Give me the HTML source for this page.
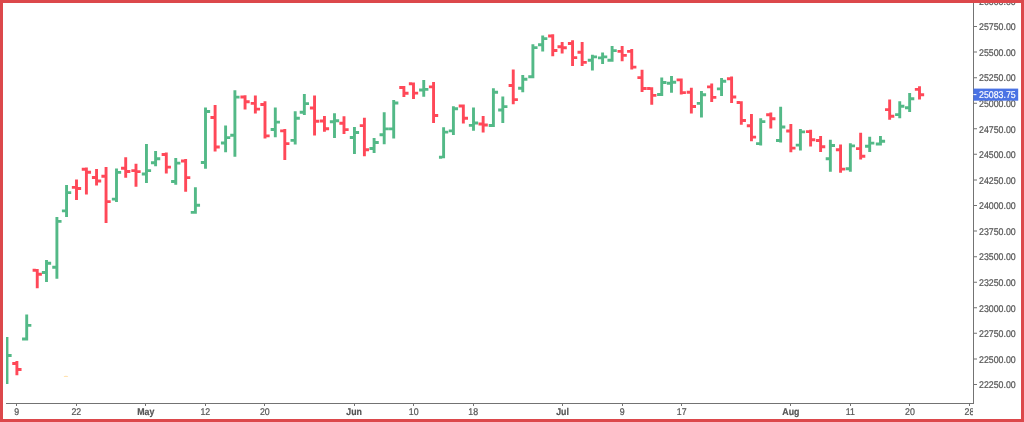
<!DOCTYPE html>
<html><head><meta charset="utf-8"><title>Chart</title>
<style>html,body{margin:0;padding:0;background:#fff;}body{width:1024px;height:422px;overflow:hidden;font-family:"Liberation Sans",sans-serif;}svg{display:block;will-change:transform;}</style>
</head><body>
<svg width="1024" height="422" viewBox="0 0 1024 422" font-family="'Liberation Sans', sans-serif" text-rendering="geometricPrecision">
<defs><clipPath id="cp"><rect x="6" y="3" width="967" height="400"/></clipPath><clipPath id="cpx"><rect x="3" y="404" width="970" height="15"/></clipPath></defs>
<rect width="1024" height="422" fill="#fff"/>
<g clip-path="url(#cp)"><path fill="#53b987" d="M5.53 337.1h2.9V384h-2.9ZM2.33 363.05h3.2v2.9h-3.2ZM8.43 354.05h3.2v2.9h-3.2ZM25.25 314.6h2.9V340.5h-2.9ZM22.05 337.55h3.2v2.9h-3.2ZM28.15 323.95h3.2v2.9h-3.2ZM45.05 260.1h2.9V282h-2.9ZM41.85 271.05h3.2v2.9h-3.2ZM47.95 261.85h3.2v2.9h-3.2ZM55.45 217.1h2.9V278.8h-2.9ZM52.25 265.75h3.2v2.9h-3.2ZM58.35 219.95h3.2v2.9h-3.2ZM65.1 184.9h2.9V217h-2.9ZM61.9 209.45h3.2v2.9h-3.2ZM68 191.15h3.2v2.9h-3.2ZM115.05 168.5h2.9V201.9h-2.9ZM111.85 197.65h3.2v2.9h-3.2ZM117.95 170.95h3.2v2.9h-3.2ZM145 144.1h2.9V182.9h-2.9ZM141.8 172.55h3.2v2.9h-3.2ZM147.9 169.15h3.2v2.9h-3.2ZM154.15 150.9h2.9V166.3h-2.9ZM150.95 161.35h3.2v2.9h-3.2ZM157.05 157.25h3.2v2.9h-3.2ZM174.3 157.9h2.9V184.8h-2.9ZM171.1 180.05h3.2v2.9h-3.2ZM177.2 161.65h3.2v2.9h-3.2ZM193.95 187.3h2.9V213.8h-2.9ZM190.75 210.95h3.2v2.9h-3.2ZM196.85 203.85h3.2v2.9h-3.2ZM204.05 107.4h2.9V168.8h-2.9ZM200.85 161.05h3.2v2.9h-3.2ZM206.95 110.05h3.2v2.9h-3.2ZM224.15 125.6h2.9V152.2h-2.9ZM220.95 141.55h3.2v2.9h-3.2ZM227.05 136.15h3.2v2.9h-3.2ZM233.45 90.2h2.9V156.8h-2.9ZM230.25 133.75h3.2v2.9h-3.2ZM236.35 95.65h3.2v2.9h-3.2ZM273.85 107.4h2.9V137.3h-2.9ZM270.65 128.05h3.2v2.9h-3.2ZM276.75 120.65h3.2v2.9h-3.2ZM293.75 111.3h2.9V144.4h-2.9ZM290.55 138.95h3.2v2.9h-3.2ZM296.65 116.75h3.2v2.9h-3.2ZM302.9 93.9h2.9V114.9h-2.9ZM299.7 110.75h3.2v2.9h-3.2ZM305.8 102.15h3.2v2.9h-3.2ZM333.05 113.2h2.9V138h-2.9ZM329.85 120.35h3.2v2.9h-3.2ZM335.95 119.35h3.2v2.9h-3.2ZM353 127h2.9V154.1h-2.9ZM349.8 136.05h3.2v2.9h-3.2ZM355.9 131.05h3.2v2.9h-3.2ZM372.65 138.1h2.9V152.9h-2.9ZM369.45 147.05h3.2v2.9h-3.2ZM375.55 141.05h3.2v2.9h-3.2ZM382.75 112.3h2.9V144.3h-2.9ZM379.55 133.35h3.2v2.9h-3.2ZM385.65 127.45h3.2v2.9h-3.2ZM392.25 99.9h2.9V138.6h-2.9ZM389.05 127.45h3.2v2.9h-3.2ZM395.15 101.55h3.2v2.9h-3.2ZM422.3 80h2.9V96.7h-2.9ZM419.1 88.55h3.2v2.9h-3.2ZM425.2 87.95h3.2v2.9h-3.2ZM442.15 127.3h2.9V158.3h-2.9ZM438.95 155.75h3.2v2.9h-3.2ZM445.05 130.65h3.2v2.9h-3.2ZM451.95 106.3h2.9V135.1h-2.9ZM448.75 129.45h3.2v2.9h-3.2ZM454.85 107.35h3.2v2.9h-3.2ZM472.05 107.4h2.9V130.8h-2.9ZM468.85 123.95h3.2v2.9h-3.2ZM474.95 121.55h3.2v2.9h-3.2ZM491.95 88.2h2.9V127h-2.9ZM488.75 124.05h3.2v2.9h-3.2ZM494.85 90.85h3.2v2.9h-3.2ZM501.35 96.4h2.9V122.9h-2.9ZM498.15 108.55h3.2v2.9h-3.2ZM504.25 105.15h3.2v2.9h-3.2ZM521.3 75.1h2.9V92.2h-2.9ZM518.1 86.85h3.2v2.9h-3.2ZM524.2 77.85h3.2v2.9h-3.2ZM531.45 44.2h2.9V78.3h-2.9ZM528.25 75.25h3.2v2.9h-3.2ZM534.35 46.15h3.2v2.9h-3.2ZM541.25 35.5h2.9V51.5h-2.9ZM538.05 43.35h3.2v2.9h-3.2ZM544.15 37.15h3.2v2.9h-3.2ZM590.95 54.7h2.9V70.6h-2.9ZM587.75 58.75h3.2v2.9h-3.2ZM593.85 55.45h3.2v2.9h-3.2ZM601.15 52.4h2.9V63.9h-2.9ZM597.95 56.45h3.2v2.9h-3.2ZM604.05 55.45h3.2v2.9h-3.2ZM610.65 46.1h2.9V61.7h-2.9ZM607.45 58.75h3.2v2.9h-3.2ZM613.55 49.15h3.2v2.9h-3.2ZM660.3 77.6h2.9V96h-2.9ZM657.1 93.05h3.2v2.9h-3.2ZM663.2 81.05h3.2v2.9h-3.2ZM670.05 76h2.9V92.7h-2.9ZM666.85 81.85h3.2v2.9h-3.2ZM672.95 80.75h3.2v2.9h-3.2ZM700 91h2.9V117.6h-2.9ZM696.8 101.95h3.2v2.9h-3.2ZM702.9 93.25h3.2v2.9h-3.2ZM720.1 78h2.9V95.9h-2.9ZM716.9 87.45h3.2v2.9h-3.2ZM723 79.85h3.2v2.9h-3.2ZM759.25 118.2h2.9V145.4h-2.9ZM756.05 142.15h3.2v2.9h-3.2ZM762.15 120.15h3.2v2.9h-3.2ZM779.2 106.7h2.9V142.4h-2.9ZM776 139.05h3.2v2.9h-3.2ZM782.1 125.55h3.2v2.9h-3.2ZM798.95 129h2.9V150.6h-2.9ZM795.75 143.65h3.2v2.9h-3.2ZM801.85 130.45h3.2v2.9h-3.2ZM828.9 139.7h2.9V171.8h-2.9ZM825.7 157.25h3.2v2.9h-3.2ZM831.8 144.05h3.2v2.9h-3.2ZM848.9 143.2h2.9V171.8h-2.9ZM845.7 167.25h3.2v2.9h-3.2ZM851.8 144.45h3.2v2.9h-3.2ZM868.25 136.8h2.9V152.1h-2.9ZM865.05 144.75h3.2v2.9h-3.2ZM871.15 141.65h3.2v2.9h-3.2ZM879 136.1h2.9V145.5h-2.9ZM875.8 142.55h3.2v2.9h-3.2ZM881.9 139.75h3.2v2.9h-3.2ZM898.3 101.3h2.9V118.3h-2.9ZM895.1 113.15h3.2v2.9h-3.2ZM901.2 104.75h3.2v2.9h-3.2ZM908.2 93h2.9V111.9h-2.9ZM905 106.35h3.2v2.9h-3.2ZM911.1 97.25h3.2v2.9h-3.2Z"/><path fill="#ff4858" d="M15.45 361h2.9V375.2h-2.9ZM12.25 362.05h3.2v2.9h-3.2ZM18.35 368.05h3.2v2.9h-3.2ZM35.8 268.9h2.9V288.2h-2.9ZM32.6 268.75h3.2v2.9h-3.2ZM38.7 272.75h3.2v2.9h-3.2ZM75.05 179.4h2.9V199.9h-2.9ZM71.85 185.95h3.2v2.9h-3.2ZM77.95 187.05h3.2v2.9h-3.2ZM84.95 167.6h2.9V194.6h-2.9ZM81.75 167.75h3.2v2.9h-3.2ZM87.85 170.85h3.2v2.9h-3.2ZM95.1 169h2.9V185.6h-2.9ZM91.9 176.05h3.2v2.9h-3.2ZM98 179.55h3.2v2.9h-3.2ZM104.6 166.9h2.9V222.9h-2.9ZM101.4 174.75h3.2v2.9h-3.2ZM107.5 200.15h3.2v2.9h-3.2ZM124.25 157.2h2.9V177.7h-2.9ZM121.05 166.85h3.2v2.9h-3.2ZM127.15 170.05h3.2v2.9h-3.2ZM134.55 163.7h2.9V186.8h-2.9ZM131.35 169.15h3.2v2.9h-3.2ZM137.45 170.15h3.2v2.9h-3.2ZM164.85 152.5h2.9V173.5h-2.9ZM161.65 153.05h3.2v2.9h-3.2ZM167.75 165.65h3.2v2.9h-3.2ZM184.2 159.1h2.9V191.8h-2.9ZM181 159.55h3.2v2.9h-3.2ZM187.1 176.15h3.2v2.9h-3.2ZM213.65 105.1h2.9V151.5h-2.9ZM210.45 116.05h3.2v2.9h-3.2ZM216.55 145.55h3.2v2.9h-3.2ZM243.6 95.2h2.9V109.6h-2.9ZM240.4 95.55h3.2v2.9h-3.2ZM246.5 100.25h3.2v2.9h-3.2ZM253.9 95.6h2.9V113.5h-2.9ZM250.7 101.95h3.2v2.9h-3.2ZM256.8 107.65h3.2v2.9h-3.2ZM263.55 101.3h2.9V138.4h-2.9ZM260.35 103.05h3.2v2.9h-3.2ZM266.45 134.45h3.2v2.9h-3.2ZM283.35 129h2.9V160h-2.9ZM280.15 129.45h3.2v2.9h-3.2ZM286.25 142.15h3.2v2.9h-3.2ZM313.1 95.6h2.9V135.4h-2.9ZM309.9 106.55h3.2v2.9h-3.2ZM316 119.85h3.2v2.9h-3.2ZM323 116.1h2.9V131.7h-2.9ZM319.8 119.55h3.2v2.9h-3.2ZM325.9 127.25h3.2v2.9h-3.2ZM342.55 116.3h2.9V134.1h-2.9ZM339.35 121.75h3.2v2.9h-3.2ZM345.45 128.15h3.2v2.9h-3.2ZM362.95 117.8h2.9V156.2h-2.9ZM359.75 124.15h3.2v2.9h-3.2ZM365.85 148.35h3.2v2.9h-3.2ZM402.45 86h2.9V96.9h-2.9ZM399.25 86.05h3.2v2.9h-3.2ZM405.35 91.85h3.2v2.9h-3.2ZM412.05 82.4h2.9V99.1h-2.9ZM408.85 82.35h3.2v2.9h-3.2ZM414.95 91.65h3.2v2.9h-3.2ZM432.1 81.9h2.9V123.1h-2.9ZM428.9 85.45h3.2v2.9h-3.2ZM435 114.05h3.2v2.9h-3.2ZM461.9 104.6h2.9V123.5h-2.9ZM458.7 104.55h3.2v2.9h-3.2ZM464.8 116.75h3.2v2.9h-3.2ZM481.7 116.1h2.9V132.5h-2.9ZM478.5 122.55h3.2v2.9h-3.2ZM484.6 123.55h3.2v2.9h-3.2ZM511.8 69.4h2.9V104.3h-2.9ZM508.6 84.05h3.2v2.9h-3.2ZM514.7 98.15h3.2v2.9h-3.2ZM551.3 34.25h2.9V56.3h-2.9ZM548.1 34.55h3.2v2.9h-3.2ZM554.2 49.05h3.2v2.9h-3.2ZM560.7 42.1h2.9V53.5h-2.9ZM557.5 45.35h3.2v2.9h-3.2ZM563.6 46.35h3.2v2.9h-3.2ZM571.1 40.3h2.9V66h-2.9ZM567.9 42.05h3.2v2.9h-3.2ZM574 56.15h3.2v2.9h-3.2ZM580.7 42h2.9V65.9h-2.9ZM577.5 50.75h3.2v2.9h-3.2ZM583.6 60.95h3.2v2.9h-3.2ZM620.7 46.1h2.9V61.2h-2.9ZM617.5 49.95h3.2v2.9h-3.2ZM623.6 53.95h3.2v2.9h-3.2ZM630.3 49h2.9V69.6h-2.9ZM627.1 49.95h3.2v2.9h-3.2ZM633.2 65.65h3.2v2.9h-3.2ZM640.6 69.7h2.9V92h-2.9ZM637.4 76.15h3.2v2.9h-3.2ZM643.5 87.05h3.2v2.9h-3.2ZM650.3 87.3h2.9V104.7h-2.9ZM647.1 87.05h3.2v2.9h-3.2ZM653.2 93.95h3.2v2.9h-3.2ZM679.8 78.5h2.9V94.6h-2.9ZM676.6 78.45h3.2v2.9h-3.2ZM682.7 91.15h3.2v2.9h-3.2ZM689.9 87.8h2.9V113.4h-2.9ZM686.7 90.75h3.2v2.9h-3.2ZM692.8 105.05h3.2v2.9h-3.2ZM710.25 83.6h2.9V101.9h-2.9ZM707.05 85.45h3.2v2.9h-3.2ZM713.15 95.95h3.2v2.9h-3.2ZM730.15 76.6h2.9V103.1h-2.9ZM726.95 77.25h3.2v2.9h-3.2ZM733.05 95.55h3.2v2.9h-3.2ZM739.85 101.2h2.9V124.7h-2.9ZM736.65 101.05h3.2v2.9h-3.2ZM742.75 119.05h3.2v2.9h-3.2ZM750 114.1h2.9V141.3h-2.9ZM746.8 124.25h3.2v2.9h-3.2ZM752.9 135.65h3.2v2.9h-3.2ZM769.35 112.4h2.9V128.4h-2.9ZM766.15 113.35h3.2v2.9h-3.2ZM772.25 117.25h3.2v2.9h-3.2ZM789.4 124h2.9V152.3h-2.9ZM786.2 129.55h3.2v2.9h-3.2ZM792.3 146.65h3.2v2.9h-3.2ZM809.15 129.7h2.9V146.6h-2.9ZM805.95 130.15h3.2v2.9h-3.2ZM812.05 138.35h3.2v2.9h-3.2ZM819.15 135.9h2.9V152.1h-2.9ZM815.95 139.05h3.2v2.9h-3.2ZM822.05 145.35h3.2v2.9h-3.2ZM839.1 144.5h2.9V172.8h-2.9ZM835.9 148.35h3.2v2.9h-3.2ZM842 167.65h3.2v2.9h-3.2ZM859.2 132.8h2.9V159.5h-2.9ZM856 147.15h3.2v2.9h-3.2ZM862.1 154.85h3.2v2.9h-3.2ZM888.2 99.4h2.9V119.8h-2.9ZM885 108.15h3.2v2.9h-3.2ZM891.1 114.75h3.2v2.9h-3.2ZM918.05 86.2h2.9V99.4h-2.9ZM914.85 87.95h3.2v2.9h-3.2ZM920.95 93.25h3.2v2.9h-3.2Z"/></g><rect x="973" y="3" width="1" height="401" fill="#737373"/><rect x="6" y="403" width="968" height="1" fill="#737373"/><path fill="#737373" d="M974 0.43h3v1h-3ZM974 26h3v1h-3ZM974 51.57h3v1h-3ZM974 77.14h3v1h-3ZM974 102.71h3v1h-3ZM974 128.29h3v1h-3ZM974 153.86h3v1h-3ZM974 179.43h3v1h-3ZM974 205h3v1h-3ZM974 230.57h3v1h-3ZM974 256.14h3v1h-3ZM974 281.71h3v1h-3ZM974 307.29h3v1h-3ZM974 332.86h3v1h-3ZM974 358.43h3v1h-3ZM974 384h3v1h-3Z"/><g font-size="8.8" fill="#555555" stroke="#555555" stroke-width="0.2"><text transform="translate(979 5) scale(1 1.11)">26000.00</text><text transform="translate(979 30) scale(1 1.11)">25750.00</text><text transform="translate(979 56) scale(1 1.11)">25500.00</text><text transform="translate(979 81) scale(1 1.11)">25250.00</text><text transform="translate(979 107) scale(1 1.11)">25000.00</text><text transform="translate(979 133) scale(1 1.11)">24750.00</text><text transform="translate(979 158) scale(1 1.11)">24500.00</text><text transform="translate(979 184) scale(1 1.11)">24250.00</text><text transform="translate(979 209) scale(1 1.11)">24000.00</text><text transform="translate(979 235) scale(1 1.11)">23750.00</text><text transform="translate(979 260) scale(1 1.11)">23500.00</text><text transform="translate(979 286) scale(1 1.11)">23250.00</text><text transform="translate(979 312) scale(1 1.11)">23000.00</text><text transform="translate(979 337) scale(1 1.11)">22750.00</text><text transform="translate(979 363) scale(1 1.11)">22500.00</text><text transform="translate(979 388) scale(1 1.11)">22250.00</text></g><path fill="#737373" d="M16 404h1v2h-1ZM76 404h1v2h-1ZM145 404h1v2h-1ZM205 404h1v2h-1ZM264 404h1v2h-1ZM354 404h1v2h-1ZM413 404h1v2h-1ZM473 404h1v2h-1ZM562 404h1v2h-1ZM622 404h1v2h-1ZM681 404h1v2h-1ZM790 404h1v2h-1ZM850 404h1v2h-1ZM909 404h1v2h-1ZM969 404h1v2h-1Z"/><g clip-path="url(#cpx)" font-size="8.8" fill="#555555" stroke="#555555" stroke-width="0.2" text-anchor="middle"><text transform="translate(16.75 414.8) scale(1 1.11)">9</text><text transform="translate(76.29 414.8) scale(1 1.11)">22</text><text transform="translate(145.76 414.8) scale(1 1.11)" font-weight="bold">May</text><text transform="translate(205.31 414.8) scale(1 1.11)">12</text><text transform="translate(264.85 414.8) scale(1 1.11)">20</text><text transform="translate(354.17 414.8) scale(1 1.11)" font-weight="bold">Jun</text><text transform="translate(413.71 414.8) scale(1 1.11)">10</text><text transform="translate(473.25 414.8) scale(1 1.11)">18</text><text transform="translate(562.57 414.8) scale(1 1.11)" font-weight="bold">Jul</text><text transform="translate(622.11 414.8) scale(1 1.11)">9</text><text transform="translate(681.66 414.8) scale(1 1.11)">17</text><text transform="translate(790.82 414.8) scale(1 1.11)" font-weight="bold">Aug</text><text transform="translate(850.37 414.8) scale(1 1.11)">11</text><text transform="translate(909.91 414.8) scale(1 1.11)">20</text><text transform="translate(969.45 414.8) scale(1 1.11)">28</text></g><ellipse cx="65.9" cy="376.4" rx="2.3" ry="0.7" fill="#ffc766" opacity="0.5"/><rect x="973.4" y="88.6" width="44.8" height="12.1" fill="#4a72e4"/><rect x="973.4" y="94.1" width="3" height="1" fill="#fff"/><text transform="translate(979 98.41) scale(1 1.11)" font-size="8.8" fill="#fff" stroke="#fff" stroke-width="0.15">25083.75</text><path fill="#dc484b" d="M0 0H1024V3H0ZM0 0H3V422H0ZM1021 0H1024V422H1021ZM0 419H1024V422H0Z"/>
</svg>
</body></html>
